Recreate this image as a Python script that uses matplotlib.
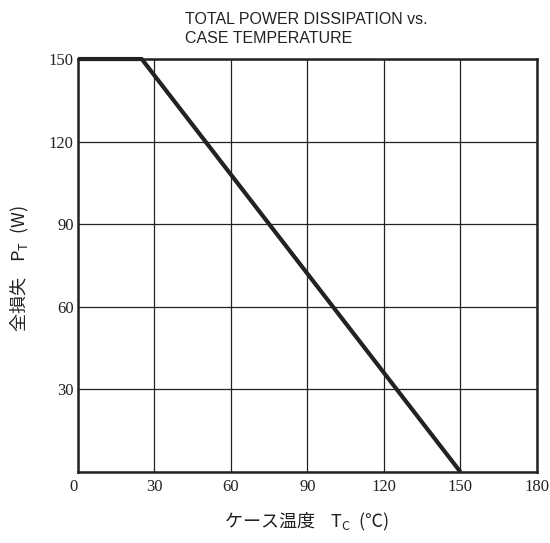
import matplotlib
matplotlib.use('Agg')
import matplotlib.pyplot as plt

# derating curve: total power dissipation vs case temperature
temp_c = [0, 25, 150]
power_w = [150, 150, 0]

x_ticks = [0, 30, 60, 90, 120, 150, 180]
y_ticks = [0, 30, 60, 90, 120, 150]
y_tick_labels = ['', '30', '60', '90', '120', '150']

plt.rcParams['font.family'] = ['Liberation Serif', 'Noto Sans CJK JP', 'DejaVu Sans']

fig = plt.figure(figsize=(5.5, 5.43), dpi=100)
ax = fig.add_axes([0.1418, 0.1308, 0.8345, 0.7605])

ax.plot(temp_c, power_w, color='#222222', lw=3.0, solid_capstyle='butt', zorder=3, clip_on=False)

ax.set_xlim(0, 180)
ax.set_ylim(0, 150)
ax.set_xticks(x_ticks)
ax.set_yticks(y_ticks)
ax.set_yticklabels(y_tick_labels)
ax.grid(True, color='#222222', lw=0.9)
ax.tick_params(axis='x', length=0, labelsize=12, pad=5, colors='#222222')
ax.tick_params(axis='y', length=0, labelsize=12, pad=3, colors='#222222')
for sp in ax.spines.values():
    sp.set_linewidth(1.8)
    sp.set_color('#222222')

# "0" label sits just left of the corner
ax.get_xticklabels()[0].set_horizontalalignment('right')

fig.text(0.336, 0.978, 'TOTAL POWER DISSIPATION vs.\nCASE TEMPERATURE', ha='left', va='top',
         fontsize=11.5, family=['Liberation Sans', 'DejaVu Sans'], color='#222222', linespacing=1.3)

fig.text(0.557, 0.039, 'ケース温度    T$_\\mathregular{C}$  (℃)', ha='center', va='center', fontsize=13,
         family=['Noto Sans CJK JP', 'DejaVu Sans'], color='#222222')
fig.text(0.037, 0.506, '全損失    P$_\\mathregular{T}$  (W)', ha='center', va='center', rotation=90, fontsize=13,
         family=['Noto Sans CJK JP', 'DejaVu Sans'], color='#222222')

fig.savefig('out.png', dpi=100, facecolor='white')
